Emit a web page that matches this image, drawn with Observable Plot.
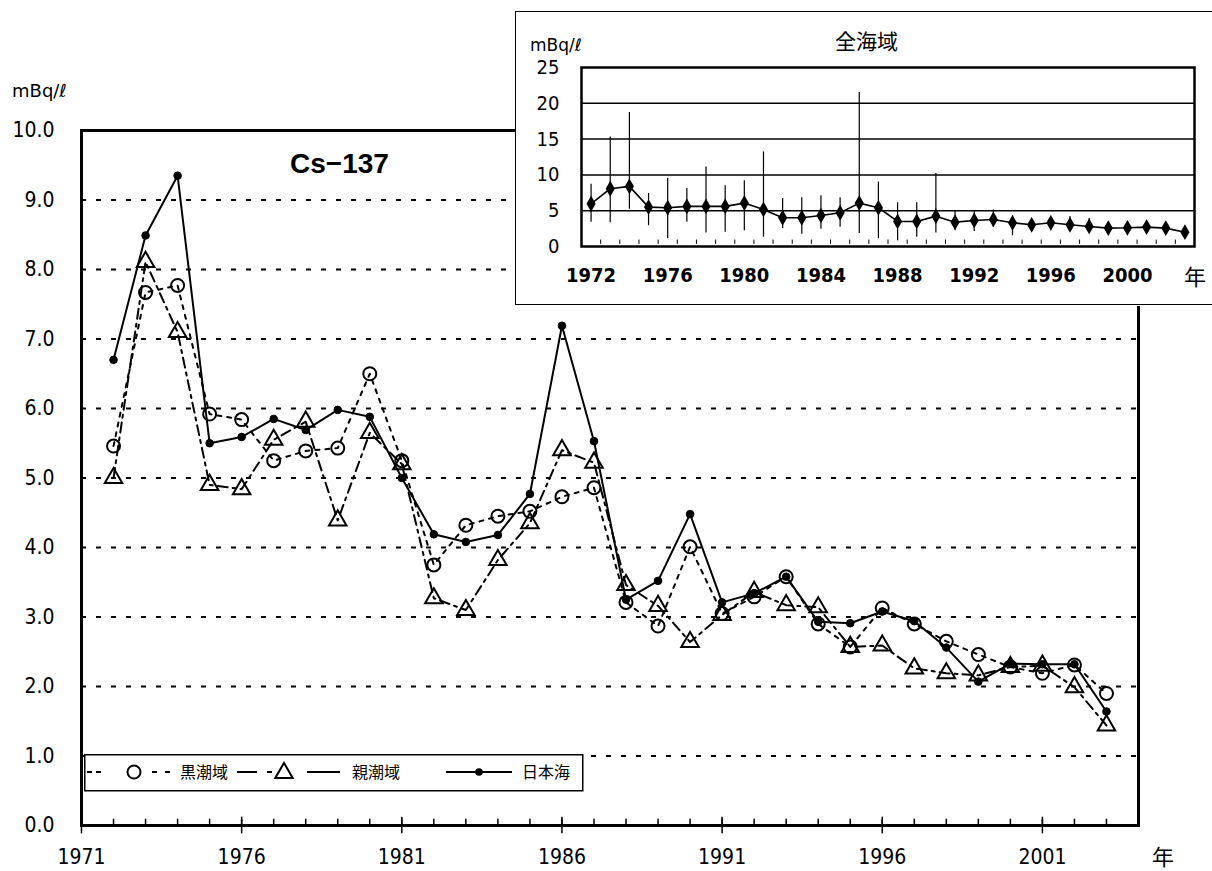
<!DOCTYPE html>
<html><head><meta charset="utf-8">
<script src="https://cdn.jsdelivr.net/npm/d3@7"></script>
<script src="https://cdn.jsdelivr.net/npm/@observablehq/plot@0.6"></script>
<style>
body{margin:0;background:#fff;}
#wrap{position:relative;width:1212px;height:871px;overflow:hidden;background:#fff;font-family:"DejaVu Sans",sans-serif;color:#000;}
.abs{position:absolute;white-space:nowrap;line-height:1;}
.jp{font-family:"Noto Sans CJK JP",sans-serif;}
#main{position:absolute;left:0;top:0;}
#inset{position:absolute;left:515px;top:12px;width:697px;height:294px;background:#fff;}
#insetBox{position:absolute;left:515px;top:11px;width:710px;height:294px;border:1.5px solid #000;box-sizing:border-box;pointer-events:none;}
#legend{position:absolute;left:84px;top:754px;}
</style></head><body>
<div id="wrap">
  <div id="main"></div>
  <div class="abs" style="left:12px;top:82px;font-size:18px;">mBq/ℓ</div>
  <div class="abs" style="left:290px;top:150px;font-size:28px;font-weight:bold;font-family:'Liberation Sans',Arial,sans-serif;">Cs−137</div>
  <div class="abs jp" style="left:1152px;top:844px;font-size:22px;">年</div>
  <svg id="legend" width="500" height="38"></svg>
  <div id="inset"></div>
  <div id="insetBox"></div>
  <div class="abs" style="left:530px;top:37px;font-size:17px;">mBq/ℓ</div>
  <div class="abs jp" style="left:835px;top:30px;font-size:21px;">全海域</div>
  <div class="abs jp" style="left:1184px;top:264px;font-size:22px;">年</div>
</div>
<script>
// ---- main chart data (Cs-137, mBq/l) ----
const years = [1972,1973,1974,1975,1976,1977,1978,1979,1980,1981,1982,1983,1984,1985,1986,1987,1988,1989,1990,1991,1992,1993,1994,1995,1996,1997,1998,1999,2000,2001,2002,2003];
const kuroshio = [5.46,7.67,7.77,5.92,5.84,5.25,5.39,5.43,6.50,5.25,3.75,4.32,4.45,4.52,4.73,4.86,3.21,2.87,4.01,3.05,3.29,3.58,2.90,2.57,3.13,2.90,2.65,2.46,2.28,2.19,2.31,1.90];
const oyashio  = [5.00,8.11,7.10,4.90,4.84,5.55,5.81,4.39,5.65,5.20,3.27,3.10,3.82,4.35,5.40,5.22,3.46,3.16,2.64,3.03,3.36,3.17,3.14,2.57,2.59,2.26,2.19,2.16,2.28,2.30,1.99,1.44];
const japanSea = [6.70,8.49,9.35,5.50,5.59,5.85,5.69,5.98,5.88,5.00,4.19,4.08,4.18,4.77,7.19,5.53,3.25,3.52,4.48,3.21,3.34,3.58,2.93,2.91,3.08,2.94,2.56,2.07,2.33,2.32,2.32,1.64];
const seriesNames = ["黒潮域","親潮域","日本海"];
const xTickYears = [1971,1976,1981,1986,1991,1996,2001];
const minorYears = [1971,1972,1973,1974,1975,1976,1977,1978,1979,1980,1981,1982,1983,1984,1985,1986,1987,1988,1989,1990,1991,1992,1993,1994,1995,1996,1997,1998,1999,2000,2001,2002,2003];
const yTicks = [0,1,2,3,4,5,6,7,8,9,10];
const gridLevels = [1,2,3,4,5,6,7,8,9];

// ---- inset data (全海域: mean with range) ----
const allMean = [5.97,8.07,8.40,5.50,5.41,5.60,5.60,5.60,6.06,5.18,4.01,4.01,4.34,4.71,6.06,5.41,3.50,3.50,4.24,3.40,3.64,3.78,3.31,3.03,3.31,3.03,2.80,2.57,2.61,2.71,2.57,2.00];
const allMax  = [8.7,15.3,18.7,7.4,9.5,8.1,11.1,8.5,9.2,13.2,6.7,6.8,7.1,6.8,21.5,9.0,6.1,6.1,10.2,4.9,5.0,5.1,4.3,3.7,4.0,4.2,3.9,3.2,3.4,3.4,3.2,2.5];
const allMin  = [3.4,3.3,5.2,2.9,1.1,3.4,1.9,2.0,2.2,1.3,2.5,1.7,2.4,2.7,1.8,1.1,0.8,1.3,1.9,2.2,2.1,2.7,1.5,2.2,2.2,2.1,2.0,1.9,2.0,1.9,1.9,1.5];
const insetXTicks = [1972,1976,1980,1984,1988,1992,1996,2000];
const insetYTicks = [0,5,10,15,20,25];
const insetGrid = [5,10,15,20];
const insetMinor = [1972.5,1973.5,1974.5,1975.5,1976.5,1977.5,1978.5,1979.5,1980.5,1981.5,1982.5,1983.5,1984.5,1985.5,1986.5,1987.5,1988.5,1989.5,1990.5,1991.5,1992.5,1993.5,1994.5,1995.5,1996.5,1997.5,1998.5,1999.5,2000.5,2001.5,2002.5];

const rows = years.map((year,i)=>({year, kuroshio:kuroshio[i], oyashio:oyashio[i], japanSea:japanSea[i]}));
const allRows = years.map((year,i)=>({year, mean:allMean[i], max:allMax[i], min:allMin[i]}));

const mainChart = Plot.plot({
  width:1212, height:871,
  marginLeft:81, marginRight:74, marginTop:130, marginBottom:46,
  style:{fontFamily:"'DejaVu Sans Condensed','DejaVu Sans',sans-serif", fontSize:"21px", color:"#000", background:"transparent", overflow:"visible"},
  x:{domain:[1971,2004], label:null},
  y:{domain:[0,10], label:null},
  marks:[
    Plot.ruleY(gridLevels,{stroke:"#000",strokeWidth:2,strokeDasharray:"5,10"}),
    Plot.ruleX(minorYears,{y1:0,y2:0.09,stroke:"#000",strokeWidth:1.5}),
    Plot.ruleX(xTickYears,{y1:-0.12,y2:0.12,stroke:"#000",strokeWidth:1.5}),
    Plot.line(rows,{x:"year",y:"kuroshio",stroke:"#000",strokeWidth:2,strokeDasharray:"4,6"}),
    Plot.line(rows,{x:"year",y:"oyashio",stroke:"#000",strokeWidth:2,strokeDasharray:"10,5,3,5"}),
    Plot.line(rows,{x:"year",y:"japanSea",stroke:"#000",strokeWidth:2}),
    Plot.dot(rows,{x:"year",y:"kuroshio",r:6.5,fill:"none",stroke:"#000",strokeWidth:2}),
    Plot.dot(rows,{x:"year",y:"oyashio",symbol:"triangle",r:6.5,fill:"none",stroke:"#000",strokeWidth:2}),
    Plot.dot(rows,{x:"year",y:"japanSea",r:3.8,fill:"#000",stroke:"#000",strokeWidth:1}),
    Plot.frame({stroke:"#000",strokeWidth:3}),
    Plot.axisX(xTickYears,{tickSize:0,tickPadding:24,label:null,tickFormat:d=>String(d)}),
    Plot.axisY(yTicks,{tickSize:0,tickPadding:27,label:null,tickFormat:d=>d.toFixed(1)})
  ]
});
document.getElementById("main").appendChild(mainChart);

const insetChart = Plot.plot({
  width:697, height:294,
  marginLeft:66, marginRight:18, marginTop:55, marginBottom:60,
  style:{fontFamily:"'DejaVu Sans Condensed','DejaVu Sans',sans-serif", fontSize:"20px", color:"#000", background:"#fff", overflow:"visible"},
  x:{domain:[1971.5,2003.5], label:null},
  y:{domain:[0,25], label:null},
  marks:[
    Plot.ruleY(insetGrid,{stroke:"#000",strokeWidth:1.5}),
    Plot.ruleX(insetMinor,{y1:0.3,y2:0.9,stroke:"#000",strokeWidth:1}),
    Plot.ruleX(allRows,{x:"year",y1:"min",y2:"max",stroke:"#000",strokeWidth:1.2}),
    Plot.line(allRows,{x:"year",y:"mean",stroke:"#000",strokeWidth:1.6}),
    Plot.dot(allRows,{x:"year",y:"mean",symbol:"diamond",r:4.8,fill:"#000"}),
    Plot.frame({stroke:"#000",strokeWidth:2.5}),
    Plot.axisX(insetXTicks,{tickSize:0,tickPadding:21,label:null,fontWeight:"bold",tickFormat:d=>String(d)}),
    Plot.axisY(insetYTicks,{tickSize:0,tickPadding:22,label:null})
  ]
});
document.getElementById("inset").appendChild(insetChart);

// ---- legend ----
const lg = d3.select("#legend");
lg.append("rect").attr("x",0.75).attr("y",0.75).attr("width",498).attr("height",36).attr("fill","#fff").attr("stroke","#000").attr("stroke-width",1.5);
const cy = 18;
const seg = (x1,x2)=>lg.append("line").attr("x1",x1).attr("x2",x2).attr("y1",cy).attr("y2",cy).attr("stroke","#000").attr("stroke-width",2);
// 黒潮域
[[3,8],[12,17],[68,73],[81,86]].forEach(([a,b])=>seg(a,b));
lg.append("circle").attr("cx",50).attr("cy",cy).attr("r",6.5).attr("fill","#fff").attr("stroke","#000").attr("stroke-width",2);
lg.append("text").attr("x",96).attr("y",cy).attr("dy","0.36em").attr("font-size",16).attr("font-family","Noto Sans CJK JP").text(seriesNames[0]);
// 親潮域
[[153,173],[183,188],[223,256]].forEach(([a,b])=>seg(a,b));
lg.append("path").attr("d",d3.symbol(d3.symbolTriangle,6.5*6.5*Math.PI)()).attr("transform",`translate(200,${cy+1})`).attr("fill","#fff").attr("stroke","#000").attr("stroke-width",2);
lg.append("text").attr("x",268).attr("y",cy).attr("dy","0.36em").attr("font-size",16).attr("font-family","Noto Sans CJK JP").text(seriesNames[1]);
// 日本海
seg(362,428);
lg.append("circle").attr("cx",395).attr("cy",cy).attr("r",3.8).attr("fill","#000");
lg.append("text").attr("x",438).attr("y",cy).attr("dy","0.36em").attr("font-size",16).attr("font-family","Noto Sans CJK JP").text(seriesNames[2]);
</script>
</body></html>
